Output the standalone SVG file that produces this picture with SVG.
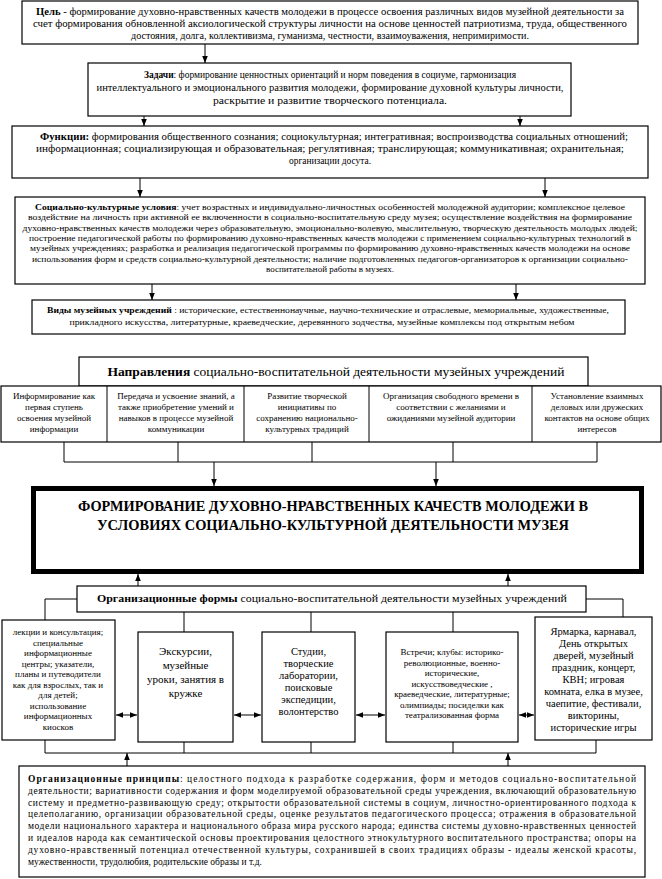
<svg xmlns="http://www.w3.org/2000/svg" width="662" height="879" viewBox="0 0 662 879" font-family="'Liberation Serif', 'Times New Roman', 'DejaVu Serif', serif">
<style>
text{font-family:'Liberation Serif','Times New Roman','DejaVu Serif',serif;fill:#000}
.b{font-weight:bold}
.c{text-anchor:middle}
.box{fill:#fff;stroke:#000;stroke-width:1.2}
.ln{fill:none;stroke:#000;stroke-width:1}
.f10{font-size:10px}
.f9{font-size:9px}
.f8{font-size:8.3px}
</style>
<defs>
<marker id="ah" viewBox="0 0 10 10" refX="10" refY="5" markerWidth="7" markerHeight="7" markerUnits="userSpaceOnUse" orient="auto-start-reverse">
<path d="M0,1 L10,5 L0,9 z" fill="#000"/>
</marker>
</defs>
<rect width="662" height="879" fill="#fff"/>

<g id="connectors">
<line class="ln" x1="205" y1="44" x2="205" y2="63" marker-end="url(#ah)"/>
<line class="ln" x1="144" y1="116" x2="144" y2="126" marker-end="url(#ah)"/>
<line class="ln" x1="520" y1="116" x2="520" y2="126" marker-end="url(#ah)"/>
<line class="ln" x1="140" y1="178" x2="140" y2="197" marker-end="url(#ah)"/>
<line class="ln" x1="545" y1="178" x2="545" y2="197" marker-end="url(#ah)"/>
<line class="ln" x1="152" y1="284" x2="152" y2="300" marker-end="url(#ah)"/>
<line class="ln" x1="516" y1="284" x2="516" y2="300" marker-end="url(#ah)"/>
<path class="ln" d="M64,442 V462 H597 V442 M178,442 V462 M312,442 V462 M453,442 V462"/>
<line class="ln" x1="214" y1="462" x2="214" y2="486" marker-end="url(#ah)"/>
<line class="ln" x1="436" y1="462" x2="436" y2="486" marker-end="url(#ah)"/>
<line class="ln" x1="138" y1="586" x2="138" y2="574" marker-end="url(#ah)"/>
<line class="ln" x1="508" y1="586" x2="508" y2="574" marker-end="url(#ah)"/>
<path class="ln" d="M77,599 H45 V620 M586,599 H623 V617 M184,612 V632 M311,612 V632 M453,612 V632"/>
<path class="ln" d="M45,740 V753 H596 V740 M184,742 V753 M311,742 V753 M453,742 V753"/>
<line class="ln" x1="127" y1="766" x2="127" y2="753" marker-end="url(#ah)"/>
<line class="ln" x1="508" y1="766" x2="508" y2="753" marker-end="url(#ah)"/>
<line class="ln" x1="116" y1="715" x2="137" y2="715" marker-start="url(#ah)" marker-end="url(#ah)"/>
<line class="ln" x1="234" y1="715" x2="261" y2="715" marker-start="url(#ah)" marker-end="url(#ah)"/>
<line class="ln" x1="356" y1="715" x2="385" y2="715" marker-start="url(#ah)" marker-end="url(#ah)"/>
<line class="ln" x1="519" y1="715" x2="534" y2="715" marker-start="url(#ah)" marker-end="url(#ah)"/>
</g>

<g id="goal">
<rect class="box" x="22" y="1" width="616" height="43"/>
<text class="f10 c" x="330" y="15" textLength="588" lengthAdjust="spacingAndGlyphs"><tspan class="b">Цель</tspan> - формирование духовно-нравственных качеств молодежи в процессе освоения различных видов музейной деятельности за</text>
<text class="f10 c" x="330" y="27" textLength="594" lengthAdjust="spacingAndGlyphs">счет формирования обновленной аксиологической структуры личности на основе ценностей патриотизма, труда, общественного</text>
<text class="f10 c" x="330" y="39" textLength="398" lengthAdjust="spacingAndGlyphs">достояния, долга, коллективизма, гуманизма, честности, взаимоуважения, непримиримости.</text>
</g>

<g id="tasks">
<rect class="box" x="88" y="63" width="483" height="53"/>
<text class="f10 c" x="330" y="78" textLength="372" lengthAdjust="spacingAndGlyphs"><tspan class="b">Задачи</tspan>: формирование ценностных ориентаций и норм поведения в социуме, гармонизация</text>
<text class="f10 c" x="330" y="91" textLength="467" lengthAdjust="spacingAndGlyphs">интеллектуального и эмоционального развития молодежи, формирование духовной культуры личности,</text>
<text class="f10 c" x="330" y="104" textLength="234" lengthAdjust="spacingAndGlyphs">раскрытие и развитие творческого потенциала.</text>
</g>

<g id="functions">
<rect class="box" x="12" y="126" width="636" height="52"/>
<text class="f10 c" x="334" y="140" textLength="588" lengthAdjust="spacingAndGlyphs"><tspan class="b">Функции:</tspan> формирования общественного сознания; социокультурная; интегративная; воспроизводства социальных отношений;</text>
<text class="f10 c" x="330" y="152" textLength="588" lengthAdjust="spacingAndGlyphs">информационная; социализирующая и образовательная; регулятивная; транслирующая; коммуникативная; охранительная;</text>
<text class="f10 c" x="330" y="164" textLength="82" lengthAdjust="spacingAndGlyphs">организации досута.</text>
</g>

<g id="conditions">
<rect class="box" x="15" y="197" width="630" height="87"/>
<text class="f8 c" x="330" y="210" textLength="590" lengthAdjust="spacingAndGlyphs"><tspan class="b">Социально-культурные условия</tspan>: учет возрастных и индивидуально-личностных особенностей молодежной аудитории; комплексное целевое</text>
<text class="f8 c" x="330" y="220.3" textLength="604" lengthAdjust="spacingAndGlyphs">воздействие на личность при активной ее включенности в социально-воспитательную среду музея; осуществление воздействия на формирование</text>
<text class="f8 c" x="330" y="230.6" textLength="615" lengthAdjust="spacingAndGlyphs">духовно-нравственных качеств молодежи через образовательную, эмоционально-волевую, мыслительную, творческую деятельность молодых людей;</text>
<text class="f8 c" x="330" y="240.9" textLength="602" lengthAdjust="spacingAndGlyphs">построение педагогической работы по формированию духовно-нравственных качеств молодежи с применением социально-культурных технологий в</text>
<text class="f8 c" x="330" y="251.2" textLength="600" lengthAdjust="spacingAndGlyphs">музейных учреждениях; разработка и реализация педагогической программы по формированию духовно-нравственных качеств молодежи на основе</text>
<text class="f8 c" x="330" y="261.5" textLength="596" lengthAdjust="spacingAndGlyphs">использования форм и средств социально-культурной деятельности; наличие подготовленных педагогов-организаторов к организации социально-</text>
<text class="f8 c" x="330" y="271.8" textLength="128" lengthAdjust="spacingAndGlyphs">воспитательной работы в музеях.</text>
</g>

<g id="museum-types">
<rect class="box" x="32" y="300" width="593" height="34"/>
<text class="f9 c" x="328" y="313" textLength="562" lengthAdjust="spacingAndGlyphs"><tspan class="b">Виды музейных учреждений</tspan> : исторические, естественнонаучные, научно-технические и отраслевые, мемориальные, художественные,</text>
<text class="f9 c" x="322" y="325" textLength="505" lengthAdjust="spacingAndGlyphs">прикладного искусства, литературные, краеведческие, деревянного зодчества, музейные комплексы под открытым небом</text>
</g>

<g id="directions">
<rect class="box" x="79" y="357" width="509" height="29"/>
<text class="c" style="font-size:12px" x="336" y="376" textLength="457" lengthAdjust="spacingAndGlyphs"><tspan class="b">Направления</tspan> социально-воспитательной деятельности музейных учреждений</text>
<rect class="box" x="1" y="386" width="660" height="56"/>
<path class="ln" d="M107,386 V442 M244,386 V442 M369,386 V442 M532,386 V442"/>
<g class="f9 c">
<text x="54" y="399">Информирование как</text>
<text x="54" y="410">первая ступень</text>
<text x="54" y="421">освоения музейной</text>
<text x="54" y="432">информации</text>
<text x="176" y="399">Передача и усвоение знаний, а</text>
<text x="176" y="410">также приобретение умений и</text>
<text x="176" y="421">навыков в процессе музейной</text>
<text x="176" y="432">коммуникации</text>
<text x="307" y="399">Развитие творческой</text>
<text x="307" y="410">инициативы по</text>
<text x="307" y="421">сохранению национально-</text>
<text x="307" y="432">культурных традиций</text>
<text x="451" y="399">Организация свободного времени в</text>
<text x="451" y="410">соответствии с желаниями и</text>
<text x="451" y="421">ожиданиями музейной аудитории</text>
<text x="597" y="399">Установление взаимных</text>
<text x="597" y="410">деловых или дружеских</text>
<text x="597" y="421">контактов на основе общих</text>
<text x="597" y="432">интересов</text>
</g>
</g>

<g id="main">
<rect x="33.5" y="488.5" width="608" height="83" fill="#fff" stroke="#000" stroke-width="5"/>
<text class="b c" style="font-size:15px" x="333" y="511" textLength="510" lengthAdjust="spacingAndGlyphs">ФОРМИРОВАНИЕ ДУХОВНО-НРАВСТВЕННЫХ КАЧЕСТВ МОЛОДЕЖИ В</text>
<text class="b c" style="font-size:15px" x="333" y="530" textLength="472" lengthAdjust="spacingAndGlyphs">УСЛОВИЯХ СОЦИАЛЬНО-КУЛЬТУРНОЙ ДЕЯТЕЛЬНОСТИ МУЗЕЯ</text>
</g>

<g id="org-forms">
<rect class="box" x="77" y="586" width="509" height="26"/>
<text class="c" style="font-size:10.5px" x="332" y="602" textLength="470" lengthAdjust="spacingAndGlyphs"><tspan class="b">Организационные формы</tspan> социально-воспитательной деятельности музейных учреждений</text>
</g>

<g id="form-lectures">
<rect class="box" x="2" y="620" width="113" height="120"/>
<g class="f9 c">
<text x="58" y="635">лекции и консультация;</text>
<text x="58" y="645.5">специальные</text>
<text x="58" y="656">информационные</text>
<text x="58" y="666.5">центры; указатели,</text>
<text x="58" y="677">планы и путеводители</text>
<text x="58" y="687.5">как для взрослых, так и</text>
<text x="58" y="698">для детей;</text>
<text x="58" y="708.5">использование</text>
<text x="58" y="719">информационных</text>
<text x="58" y="729.5">киосков</text>
</g>
</g>

<g id="form-excursions">
<rect class="box" x="138" y="632" width="95" height="110"/>
<g class="c" style="font-size:11px">
<text x="185.5" y="655">Экскурсии,</text>
<text x="185.5" y="669">музейные</text>
<text x="185.5" y="683">уроки, занятия в</text>
<text x="185.5" y="697">кружке</text>
</g>
</g>

<g id="form-studios">
<rect class="box" x="262" y="632" width="93" height="110"/>
<g class="c" style="font-size:10.5px">
<text x="308.5" y="655">Студии,</text>
<text x="308.5" y="667">творческие</text>
<text x="308.5" y="679">лаборатории,</text>
<text x="308.5" y="691">поисковые</text>
<text x="308.5" y="703">экспедиции,</text>
<text x="308.5" y="715">волонтерство</text>
</g>
</g>

<g id="form-meetings">
<rect class="box" x="386" y="632" width="132" height="110"/>
<g class="f9 c">
<text x="452" y="655">Встречи; клубы: историко-</text>
<text x="452" y="665.5">революционные, военно-</text>
<text x="452" y="676">исторические,</text>
<text x="452" y="686.5">искусствоведческие ,</text>
<text x="452" y="697">краеведческие, литературные;</text>
<text x="452" y="707.5">олимпиады; посиделки как</text>
<text x="452" y="718">театрализованная форма</text>
</g>
</g>

<g id="form-fairs">
<rect class="box" x="535" y="617" width="117" height="123"/>
<g class="c" style="font-size:10.5px">
<text x="593.5" y="635">Ярмарка, карнавал,</text>
<text x="593.5" y="647">День открытых</text>
<text x="593.5" y="659">дверей, музейный</text>
<text x="593.5" y="671">праздник, концерт,</text>
<text x="593.5" y="683">КВН; игровая</text>
<text x="593.5" y="695">комната, елка в музее,</text>
<text x="593.5" y="707">чаепитие, фестивали,</text>
<text x="593.5" y="719">викторины,</text>
<text x="593.5" y="731">исторические игры</text>
</g>
</g>

<g id="principles">
<rect class="box" x="19" y="766" width="626" height="111"/>
<g style="font-size:9.5px">
<text x="28" y="782" textLength="608" lengthAdjust="spacing"><tspan class="b">Организационные принципы</tspan>: целостного подхода к разработке содержания, форм и методов социально-воспитательной</text>
<text x="28" y="793.8" textLength="608" lengthAdjust="spacing">деятельности; вариативности содержания и форм моделируемой образовательной среды учреждения, включающий образовательную</text>
<text x="28" y="805.6" textLength="608" lengthAdjust="spacing">систему и предметно-развивающую среду; открытости образовательной системы в социум, личностно-ориентированного подхода к</text>
<text x="28" y="817.4" textLength="608" lengthAdjust="spacing">целеполаганию, организации образовательной среды, оценке результатов педагогического процесса; отражения в образовательной</text>
<text x="28" y="829.2" textLength="608" lengthAdjust="spacing">модели национального характера и национального образа мира русского народа; единства системы духовно-нравственных ценностей</text>
<text x="28" y="841" textLength="608" lengthAdjust="spacing">и идеалов народа как семантической основы проектирования целостного этнокультурного воспитательного пространства; опоры на</text>
<text x="28" y="852.8" textLength="608" lengthAdjust="spacing">духовно-нравственный потенциал отечественной культуры, сохранившей в своих традициях образы - идеалы женской красоты,</text>
<text x="28" y="864.6">мужественности, трудолюбия, родительские образы и т.д.</text>
</g>
</g>
</svg>
